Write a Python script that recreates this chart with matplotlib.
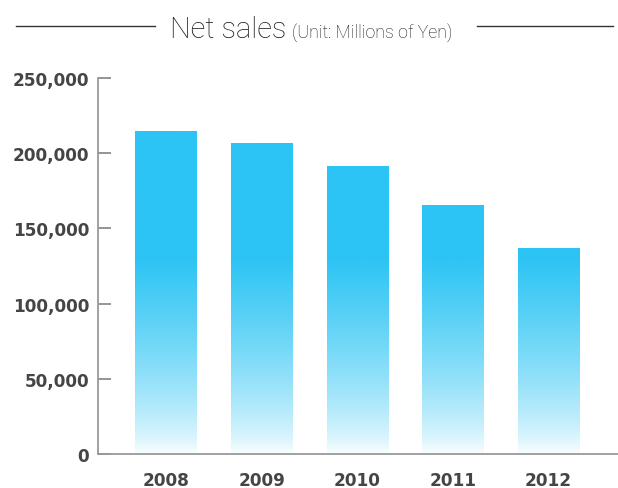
import numpy as np
import matplotlib
matplotlib.use("Agg")
import matplotlib.pyplot as plt
from matplotlib.lines import Line2D
from matplotlib.ticker import FuncFormatter

years = ["2008", "2009", "2010", "2011", "2012"]
net_sales = [214500, 206500, 191300, 165300, 136700]
y_ticks = [0, 50000, 100000, 150000, 200000, 250000]

bar_color = np.array([44, 196, 244]) / 255.0
label_color = "#454545"
axis_color = "#9a9a9a"


def gradient_colors(vals, fade_top=130000, power=0.7):
    # fade to white towards the baseline, same for every bar
    f = np.clip(vals / fade_top, 0, 1) ** power
    white = np.ones(3)
    return white + (bar_color - white) * f[:, None]


W, H = 618, 489
fig = plt.figure(figsize=(W / 100, H / 100), dpi=100)
ax = fig.add_axes([98 / W, (H - 455) / H, 1 - 98 / W, (455 - 79) / H])

x = np.arange(len(years))
bars = ax.bar(x, net_sales, width=0.64, color="none", edgecolor="none")

for patch, val in zip(bars, net_sales):
    ys = np.linspace(val, 0, 300)
    img = gradient_colors(ys)[:, None, :]
    x0 = patch.get_x()
    im = ax.imshow(img, extent=[x0, x0 + patch.get_width(), 0, val],
                   aspect="auto", interpolation="bilinear", zorder=2)
    im.set_clip_path(patch)

ax.set_xlim(-0.711, 4.728)
ax.set_ylim(0, 250000)
ax.set_yticks(y_ticks)
ax.yaxis.set_major_formatter(FuncFormatter(lambda v, p: f"{int(v):,}"))
ax.set_xticks(x)
ax.set_xticklabels(years)

for side in ["top", "right"]:
    ax.spines[side].set_visible(False)
for side in ["left", "bottom"]:
    ax.spines[side].set_color(axis_color)
    ax.spines[side].set_linewidth(1.3)

ax.tick_params(axis="y", direction="in", length=9, width=1.1, color="#777777",
               pad=6.5, labelsize=12.2, labelcolor=label_color)
ax.tick_params(axis="x", length=0, pad=12.5, labelsize=12.2, labelcolor=label_color)
for lbl in ax.get_yticklabels() + ax.get_xticklabels():
    lbl.set_fontweight("bold")
    lbl.set_family("DejaVu Sans")

# title with side rules
ty = 1 - 27 / H
fig.add_artist(Line2D([16 / W, 155 / W], [ty, ty], color="#333333", lw=1.0))
fig.add_artist(Line2D([477 / W, 613 / W], [ty, ty], color="#333333", lw=1.0))
fig.text(170 / W, 1 - 38.5 / H, "Net sales", fontsize=21, color="#1a1a1a",
         family=["Roboto", "DejaVu Sans"], fontweight="light", va="baseline")
fig.text(292 / W, 1 - 37.5 / H, "(Unit: Millions of Yen)", fontsize=12.8,
         color="#1a1a1a", family=["Roboto", "DejaVu Sans"], fontweight="light",
         va="baseline")

fig.savefig("out.png", dpi=100)
